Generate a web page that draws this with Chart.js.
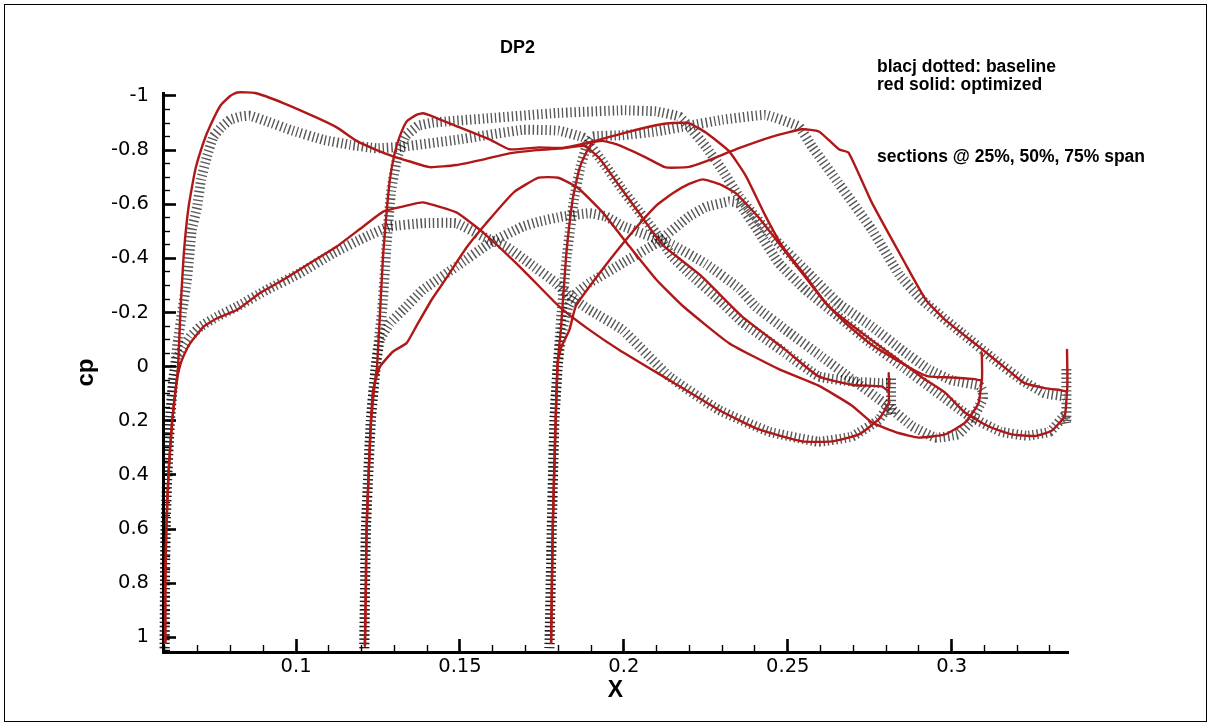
<!DOCTYPE html>
<html>
<head>
<meta charset="utf-8">
<script src="https://cdn.jsdelivr.net/npm/chart.js@4/dist/chart.umd.min.js"></script>
<style>
  html, body { margin: 0; padding: 0; background: #fff; }
  #wrap { position: relative; width: 1213px; height: 726px; overflow: hidden; }
  #frame { position: absolute; left: 4px; top: 4px; width: 1203px; height: 718px; border: 1px solid #000; box-sizing: border-box; pointer-events: none; }
  .note { position: absolute; font-family: "Liberation Sans", Arial, sans-serif; font-weight: bold; color: #000; white-space: nowrap; line-height: 18px; }
</style>
</head>
<body>
<div id="wrap">
  <canvas id="c" width="1213" height="726"></canvas>
  <div id="frame"></div>
  <div class="note" style="left:500px;top:38px;font-size:18px;">DP2</div>
  <div class="note" style="left:877px;top:57px;font-size:17.5px;">blacj dotted: baseline</div>
  <div class="note" style="left:877px;top:75px;font-size:17.5px;">red solid: optimized</div>
  <div class="note" style="left:877px;top:147px;font-size:17.5px;">sections @ 25%, 50%, 75% span</div>
</div>
<script>
// ---- tick values / labels ----
const xMajorTicks = [0.1, 0.15, 0.2, 0.25, 0.3];
const xMajorLabels = ['0.1', '0.15', '0.2', '0.25', '0.3'];
const xMinorTicks = [0.06,0.07,0.08,0.09,0.10,0.11,0.12,0.13,0.14,0.15,0.16,0.17,0.18,0.19,0.20,0.21,0.22,0.23,0.24,0.25,0.26,0.27,0.28,0.29,0.30,0.31,0.32,0.33];
const yMajorTicks = [-1, -0.8, -0.6, -0.4, -0.2, 0, 0.2, 0.4, 0.6, 0.8, 1];
const yMajorLabels = ['-1', '-0.8', '-0.6', '-0.4', '-0.2', '0', '0.2', '0.4', '0.6', '0.8', '1'];
const yMinorTicks = [-1,-0.95,-0.9,-0.85,-0.8,-0.75,-0.7,-0.65,-0.6,-0.55,-0.5,-0.45,-0.4,-0.35,-0.3,-0.25,-0.2,-0.15,-0.1,-0.05,0,0.05,0.1,0.15,0.2,0.25,0.3,0.35,0.4,0.45,0.5,0.55,0.6,0.65,0.7,0.75,0.8,0.85,0.9,0.95,1,1.05];

// ---- optimized (red solid), [X, cp] ----
const optS1Upper = [[0.0601,1.02],[0.0601,0.80],[0.0604,0.60],[0.0611,0.39],[0.0622,0.20],[0.0633,0.08],[0.0640,0.00],[0.0647,-0.20],[0.0657,-0.41],[0.0672,-0.59],[0.0693,-0.73],[0.0718,-0.83],[0.0738,-0.89],[0.0769,-0.964],[0.0799,-1.0],[0.0820,-1.013],[0.0875,-1.011],[0.0961,-0.974],[0.1063,-0.92],[0.1124,-0.884],[0.1185,-0.834],[0.1246,-0.80],[0.1296,-0.777],[0.1347,-0.758],[0.1408,-0.737],[0.1489,-0.745],[0.1570,-0.765],[0.1651,-0.788],[0.1733,-0.800],[0.1813,-0.807],[0.1880,-0.815],[0.1925,-0.77],[0.1985,-0.67],[0.2047,-0.567],[0.2118,-0.45],[0.2235,-0.336],[0.2361,-0.185],[0.2493,-0.062],[0.2594,0.036],[0.2696,0.067],[0.2787,0.073],[0.2808,0.09],[0.2808,0.024]];
const optS1Lower = [[0.0601,1.02],[0.0601,0.80],[0.0604,0.60],[0.0611,0.39],[0.0622,0.20],[0.0635,0.06],[0.0645,0.0],[0.0657,-0.04],[0.0677,-0.087],[0.0718,-0.148],[0.0759,-0.179],[0.0820,-0.21],[0.0890,-0.272],[0.0961,-0.321],[0.1043,-0.383],[0.1124,-0.444],[0.1205,-0.518],[0.1266,-0.573],[0.1347,-0.598],[0.1387,-0.607],[0.1489,-0.57],[0.1570,-0.496],[0.1692,-0.358],[0.1803,-0.222],[0.1895,-0.136],[0.1986,-0.062],[0.2138,0.049],[0.2290,0.16],[0.2412,0.232],[0.2544,0.276],[0.2635,0.276],[0.2717,0.25],[0.2778,0.194],[0.2808,0.135],[0.2808,0.09]];
const optS2Upper = [[0.1210,1.03],[0.1213,0.80],[0.1215,0.60],[0.1227,0.234],[0.1241,0.05],[0.1247,0.0],[0.1256,-0.198],[0.1266,-0.42],[0.1276,-0.567],[0.1286,-0.69],[0.1301,-0.789],[0.1316,-0.85],[0.1337,-0.905],[0.1367,-0.93],[0.1387,-0.936],[0.1418,-0.924],[0.1489,-0.889],[0.1590,-0.84],[0.1651,-0.803],[0.1742,-0.81],[0.1813,-0.808],[0.1900,-0.83],[0.1996,-0.862],[0.2098,-0.892],[0.2148,-0.90],[0.2199,-0.899],[0.2250,-0.865],[0.2320,-0.797],[0.2372,-0.705],[0.2432,-0.557],[0.2483,-0.446],[0.2554,-0.336],[0.2615,-0.237],[0.2676,-0.161],[0.2757,-0.08],[0.2838,-0.02],[0.2889,0.015],[0.2929,0.036],[0.3000,0.04],[0.3071,0.046],[0.3092,0.05],[0.3092,-0.05]];
const optS2Lower = [[0.1210,1.03],[0.1213,0.80],[0.1215,0.60],[0.1227,0.234],[0.1235,0.086],[0.1256,0.0],[0.1296,-0.056],[0.1337,-0.087],[0.1367,-0.15],[0.1415,-0.25],[0.1460,-0.33],[0.1520,-0.44],[0.1580,-0.53],[0.1665,-0.645],[0.1740,-0.698],[0.1800,-0.698],[0.1860,-0.66],[0.1935,-0.57],[0.2016,-0.446],[0.2098,-0.323],[0.2179,-0.225],[0.2321,-0.087],[0.2473,0.009],[0.2594,0.07],[0.2696,0.144],[0.2757,0.206],[0.2838,0.245],[0.2899,0.262],[0.2980,0.25],[0.3041,0.207],[0.3082,0.135],[0.3092,0.05]];
const optS3Upper = [[0.1778,1.02],[0.1783,0.60],[0.1791,0.234],[0.1798,-0.013],[0.1808,-0.139],[0.1824,-0.41],[0.1844,-0.619],[0.1864,-0.73],[0.1885,-0.79],[0.1905,-0.828],[0.1935,-0.834],[0.1976,-0.822],[0.2057,-0.779],[0.2128,-0.736],[0.2199,-0.738],[0.2250,-0.758],[0.2351,-0.807],[0.2453,-0.85],[0.2544,-0.877],[0.2595,-0.869],[0.2656,-0.803],[0.2686,-0.79],[0.2757,-0.605],[0.2858,-0.382],[0.2922,-0.246],[0.2980,-0.173],[0.3082,-0.075],[0.3183,0.024],[0.3223,0.061],[0.3284,0.079],[0.3330,0.086],[0.3352,0.09],[0.3352,-0.062]];
const optS3Lower = [[0.1778,1.02],[0.1783,0.60],[0.1791,0.234],[0.1798,-0.013],[0.1810,-0.075],[0.1834,-0.136],[0.1854,-0.225],[0.1935,-0.36],[0.2016,-0.483],[0.2098,-0.594],[0.2148,-0.64],[0.2199,-0.675],[0.2240,-0.692],[0.2290,-0.675],[0.2341,-0.641],[0.2412,-0.55],[0.2483,-0.44],[0.2554,-0.33],[0.2625,-0.222],[0.2727,-0.124],[0.2838,-0.025],[0.2919,0.047],[0.2980,0.096],[0.3041,0.17],[0.3112,0.22],[0.3183,0.25],[0.3254,0.256],[0.3305,0.237],[0.3345,0.182],[0.3352,0.09]];

// ---- baseline (black "+" markers), [X, cp] ----
const baseS1Upper = [[0.0599,1.04],[0.0600,0.80],[0.0602,0.60],[0.0607,0.40],[0.0615,0.20],[0.0625,0.05],[0.0640,-0.10],[0.0652,-0.20],[0.0667,-0.32],[0.0682,-0.505],[0.0698,-0.59],[0.0710,-0.69],[0.0728,-0.776],[0.0748,-0.85],[0.0774,-0.887],[0.0799,-0.912],[0.0830,-0.924],[0.0860,-0.927],[0.0911,-0.906],[0.0982,-0.875],[0.1083,-0.838],[0.1164,-0.82],[0.1246,-0.807],[0.1327,-0.813],[0.1489,-0.838],[0.1692,-0.875],[0.1800,-0.872],[0.1878,-0.845],[0.1945,-0.74],[0.1996,-0.653],[0.2098,-0.493],[0.2148,-0.407],[0.2199,-0.345],[0.2290,-0.247],[0.2361,-0.165],[0.2493,-0.05],[0.2594,0.036],[0.2696,0.055],[0.2787,0.061],[0.2815,0.06]];
const baseS1Lower = [[0.0599,1.04],[0.0600,0.80],[0.0602,0.60],[0.0607,0.40],[0.0615,0.20],[0.0625,0.05],[0.0637,-0.03],[0.0657,-0.074],[0.0677,-0.111],[0.0708,-0.148],[0.0759,-0.185],[0.0820,-0.222],[0.0911,-0.284],[0.1012,-0.346],[0.1114,-0.42],[0.1215,-0.481],[0.1286,-0.518],[0.1387,-0.53],[0.1489,-0.53],[0.1570,-0.481],[0.1641,-0.444],[0.1712,-0.382],[0.1793,-0.309],[0.1834,-0.26],[0.1895,-0.21],[0.1996,-0.136],[0.2138,0.036],[0.2290,0.16],[0.2443,0.24],[0.2594,0.277],[0.2696,0.258],[0.2777,0.197],[0.2808,0.147],[0.2815,0.18],[0.2815,0.04]];
const baseS2Upper = [[0.1208,1.04],[0.1213,0.60],[0.1228,0.20],[0.1243,0.0],[0.1262,-0.2],[0.1276,-0.45],[0.1290,-0.65],[0.1310,-0.78],[0.1335,-0.852],[0.1372,-0.89],[0.1420,-0.902],[0.1590,-0.918],[0.1793,-0.937],[0.1996,-0.947],[0.2098,-0.943],[0.2169,-0.924],[0.2199,-0.887],[0.2250,-0.813],[0.2300,-0.727],[0.2351,-0.629],[0.2453,-0.48],[0.2554,-0.357],[0.2655,-0.234],[0.2757,-0.148],[0.2850,-0.06],[0.2930,0.01],[0.3000,0.05],[0.3085,0.07],[0.3095,0.09]];
const baseS2Lower = [[0.1208,1.04],[0.1213,0.60],[0.1228,0.20],[0.1243,0.0],[0.1256,-0.1],[0.1286,-0.16],[0.1327,-0.21],[0.1387,-0.284],[0.1489,-0.37],[0.1590,-0.456],[0.1692,-0.518],[0.1742,-0.536],[0.1813,-0.555],[0.1895,-0.567],[0.1945,-0.555],[0.1996,-0.52],[0.2148,-0.45],[0.2250,-0.38],[0.2351,-0.29],[0.2402,-0.222],[0.2500,-0.13],[0.2600,-0.04],[0.2700,0.05],[0.2800,0.14],[0.2880,0.22],[0.2950,0.262],[0.3020,0.25],[0.3060,0.2],[0.3095,0.12],[0.3095,0.09]];
const baseS3Upper = [[0.1773,1.04],[0.1780,0.60],[0.1788,0.20],[0.1798,0.0],[0.1810,-0.2],[0.1826,-0.41],[0.1848,-0.62],[0.1868,-0.74],[0.1885,-0.81],[0.1905,-0.85],[0.1996,-0.855],[0.2098,-0.869],[0.2199,-0.89],[0.2300,-0.912],[0.2432,-0.93],[0.2534,-0.887],[0.2574,-0.813],[0.2655,-0.678],[0.2757,-0.506],[0.2840,-0.34],[0.2909,-0.247],[0.3031,-0.124],[0.3132,-0.025],[0.3213,0.049],[0.3284,0.098],[0.3345,0.11]];
const baseS3Lower = [[0.1773,1.04],[0.1780,0.60],[0.1788,0.20],[0.1798,0.0],[0.1810,-0.12],[0.1830,-0.22],[0.1854,-0.27],[0.1895,-0.309],[0.1996,-0.383],[0.2098,-0.456],[0.2199,-0.555],[0.2250,-0.59],[0.2320,-0.61],[0.2351,-0.604],[0.2410,-0.5],[0.2473,-0.382],[0.2554,-0.284],[0.2655,-0.185],[0.2750,-0.09],[0.2850,0.0],[0.2950,0.09],[0.3050,0.18],[0.3150,0.24],[0.3230,0.255],[0.3300,0.24],[0.3345,0.18],[0.3350,0.21],[0.3350,0.0]];

const optimizedCurves = [optS1Upper, optS1Lower, optS2Upper, optS2Lower, optS3Upper, optS3Lower];
const baselineCurves = [baseS1Upper, baseS1Lower, baseS2Upper, baseS2Lower, baseS3Upper, baseS3Lower];

const toXY = arr => arr.map(p => ({x: p[0], y: p[1]}));

const datasets = [];
optimizedCurves.forEach(c => datasets.push({
  data: toXY(c), showLine: true, pointRadius: 0, borderColor: '#b01818',
  borderWidth: 2.4, tension: 0.15, order: 0, clip: 8,
  borderJoinStyle: 'round', borderCapStyle: 'round'
}));
baselineCurves.forEach(c => datasets.push({
  data: toXY(c), showLine: true, pointRadius: 0, borderColor: 'rgba(0,0,0,0.66)',
  borderWidth: 10, borderDash: [1.4, 2.8], borderCapStyle: 'butt', borderJoinStyle: 'bevel',
  tension: 0.1, order: 1, clip: 8
}));

const X_MIN = 0.0594, X_MAX = 0.3355, Y_MIN = -1.011, Y_MAX = 1.054;
const tickFont = {family: 'DejaVu Sans', size: 19.5};

new Chart(document.getElementById('c'), {
  type: 'scatter',
  data: {datasets},
  options: {
    responsive: false, animation: false, devicePixelRatio: 1,
    layout: {padding: {left: 0, right: 145, top: 93, bottom: 0}},
    plugins: {legend: {display: false}, tooltip: {enabled: false}, title: {display: false}},
    scales: {
      xMinor: {
        type: 'linear', position: 'bottom', weight: 0, min: X_MIN, max: X_MAX,
        afterBuildTicks: a => { a.ticks = xMinorTicks.map(v => ({value: v})); },
        afterFit: s => { s.height = 0; },
        ticks: {display: false},
        border: {display: false},
        grid: {drawOnChartArea: false, drawTicks: true, tickLength: -7, tickWidth: 1.4, tickColor: '#000'}
      },
      x: {
        type: 'linear', position: 'bottom', weight: 1, min: X_MIN, max: X_MAX,
        afterBuildTicks: a => { a.ticks = xMajorTicks.map(v => ({value: v})); },
        afterFit: s => { s.height = 74; },
        ticks: {font: tickFont, color: '#000', padding: 16,
          callback: v => { const i = xMajorTicks.findIndex(t => Math.abs(t - v) < 1e-9); return i >= 0 ? xMajorLabels[i] : ''; }},
        border: {display: true, color: '#000', width: 3},
        grid: {drawOnChartArea: false, drawTicks: true, tickLength: -13, tickWidth: 2.6, tickColor: '#000'},
        title: {display: true, text: 'X', color: '#000', font: {family: 'Liberation Sans', size: 23, weight: 'bold'}, padding: {top: 0, bottom: 22}}
      },
      yMinor: {
        type: 'linear', position: 'left', weight: 0, reverse: true, min: Y_MIN, max: Y_MAX,
        afterBuildTicks: a => { a.ticks = yMinorTicks.map(v => ({value: v})); },
        afterFit: s => { s.width = 0; },
        ticks: {display: false},
        border: {display: false},
        grid: {drawOnChartArea: false, drawTicks: true, tickLength: -7, tickWidth: 1.4, tickColor: '#000'}
      },
      y: {
        type: 'linear', position: 'left', weight: 1, reverse: true, min: Y_MIN, max: Y_MAX,
        afterBuildTicks: a => { a.ticks = yMajorTicks.map(v => ({value: v})); },
        afterFit: s => { s.width = 163; },
        ticks: {font: tickFont, color: '#000', padding: 27,
          callback: v => { const i = yMajorTicks.findIndex(t => Math.abs(t - v) < 1e-9); return i >= 0 ? yMajorLabels[i] : ''; }},
        border: {display: true, color: '#000', width: 3},
        grid: {drawOnChartArea: false, drawTicks: true, tickLength: -13, tickWidth: 2.6, tickColor: '#000'},
        title: {display: true, text: 'cp', color: '#000', font: {family: 'Liberation Sans', size: 24, weight: 'bold'}, padding: {top: 72, bottom: 0}}
      }
    }
  }
});
</script>
</body>
</html>
